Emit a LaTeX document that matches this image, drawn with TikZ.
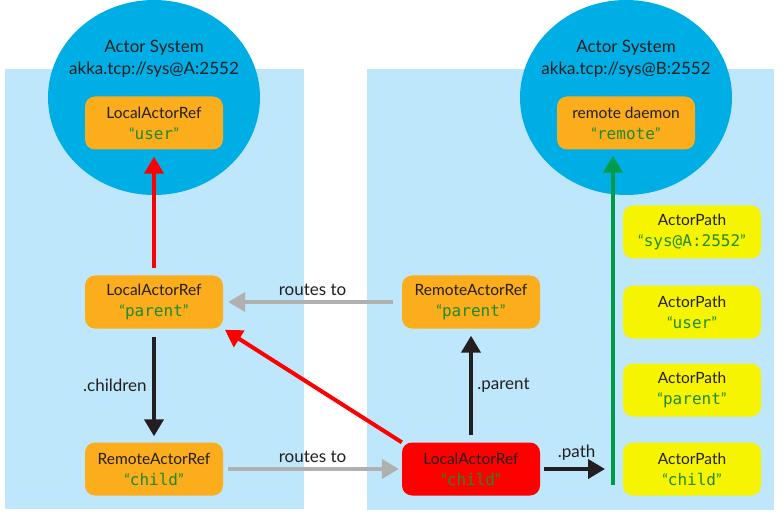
\documentclass[tikz,border=0pt]{standalone}
\usepackage{fontspec}
\setmainfont{Lato}
\setmonofont{DejaVu Sans Mono}
\usepackage{tikz}
\usetikzlibrary{arrows.meta}
\definecolor{panelblue}{HTML}{BFE7FB}
\definecolor{sysblue}{HTML}{00AEE6}
\definecolor{reforange}{HTML}{FBAD1B}
\definecolor{pathyellow}{HTML}{F7F400}
\definecolor{codegreen}{HTML}{1F8A2E}
\definecolor{linegreen}{HTML}{009B48}
\definecolor{routegray}{HTML}{B0B0B0}
\definecolor{inkdark}{HTML}{231F20}
\newcommand{\qname}[1]{{\color{codegreen}“{\ttfamily\fontsize{16}{21}\selectfont #1}”}}

\begin{document}
\begin{tikzpicture}[x=1pt, y=-1pt,
    ref/.style={rounded corners=10pt, minimum width=138pt, minimum height=53pt,
        align=center, fill=reforange, text=inkdark, font=\fontsize{15.5}{21}\selectfont},
    pathbox/.style={ref, fill=pathyellow},
    arr/.style={line width=4pt, -{Triangle[length=17pt,width=19pt]}},
    lbl/.style={text=inkdark, font=\fontsize{17}{22}\selectfont}]
    \useasboundingbox (0,0) rectangle (784,521);
    % panels
    \fill[panelblue] (5,69) rectangle (304,509);
    \fill[panelblue] (367,69) rectangle (774,510);
    % actor systems
    \fill[sysblue] (154,97.5) ellipse (106pt and 97.5pt);
    \fill[sysblue] (626,97.5) ellipse (106pt and 97.5pt);
    \node[lbl, align=center] (sysA) at (154,59) {Actor System\\akka.tcp://sys@A:2552};
    \node[lbl, align=center] (sysB) at (626,59) {Actor System\\akka.tcp://sys@B:2552};
    % refs
    \node[ref] (user) at (154,123) {LocalActorRef\\\qname{user}};
    \node[ref] (daemon) at (626,123) {remote daemon\\\qname{remote}};
    \node[ref] (lparent) at (154,302) {LocalActorRef\\\qname{parent}};
    \node[ref] (rchild) at (154,469) {RemoteActorRef\\\qname{child}};
    \node[ref] (rparent) at (471,302) {RemoteActorRef\\\qname{parent}};
    \node[ref, fill=red] (lchild) at (471,469) {LocalActorRef\\\qname{child}};
    % paths
    \node[pathbox] (psys) at (692,232) {ActorPath\\\qname{sys@A:2552}};
    \node[pathbox] (puser) at (692,312) {ActorPath\\\qname{user}};
    \node[pathbox] (pparent) at (692,390) {ActorPath\\\qname{parent}};
    \node[pathbox] (pchild) at (692,469) {ActorPath\\\qname{child}};
    \coordinate (pathend) at (613,485);
    % arrows
    \draw[arr, red, shorten <=7pt, shorten >=7pt] (lparent.north) -- (user.south);
    \draw[arr, inkdark, shorten <=8pt, shorten >=6pt] (lparent.south) -- node[lbl, left=2pt] {.children} (rchild.north);
    \draw[arr, routegray, shorten <=9pt, shorten >=5pt] (rparent.west) -- node[lbl, above=1pt] {routes to} (lparent.east);
    \draw[arr, routegray, shorten <=5pt, shorten >=3pt] (rchild.east) -- node[lbl, above=1pt] {routes to} (lchild.west);
    \draw[arr, red, shorten >=2pt] (lchild.north west) -- (lparent.south east);
    \draw[arr, inkdark, shorten <=7pt, shorten >=7pt] (lchild.north) -- node[lbl, right=1pt] {.parent} (rparent.south);
    \draw[arr, inkdark, shorten <=4pt, shorten >=8pt] (lchild.east) -- node[lbl, above=3pt] {.path} (lchild.east -| pathend);
    \draw[arr, linegreen, shorten >=6pt] (pathend) -- (pathend |- daemon.south);
\end{tikzpicture}
\end{document}
